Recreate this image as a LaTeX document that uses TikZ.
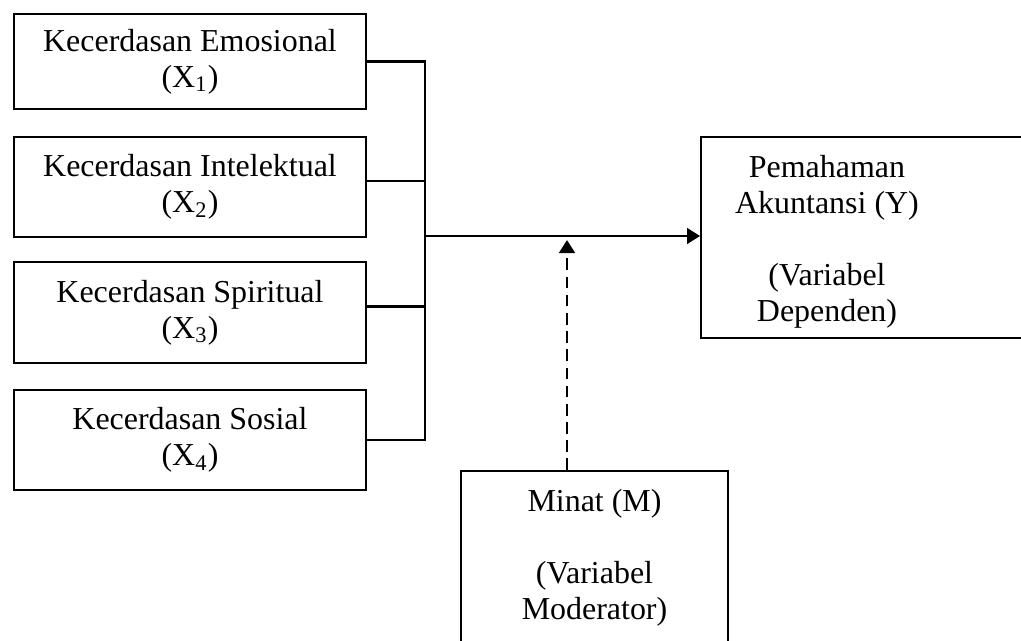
\documentclass[tikz,border=0pt]{standalone}
\usepackage{fontspec}
\setmainfont{Liberation Serif}
\usetikzlibrary{positioning, calc, arrows.meta}

\begin{document}
\begin{tikzpicture}[x=0.385pt, y=-0.385pt, line width=1pt,
    txt/.style={align=center, font=\fontsize{12.3}{13.86}\selectfont},
    varbox/.style={txt, draw, minimum width=135.5pt, inner sep=0pt},
    thinbox/.style={draw, line width=0.7pt, inner sep=0pt},
    tip/.style={-{Triangle[length=5pt, width=6pt]}}]
\path[use as bounding box, clip] (0,0) rectangle (1021,640);
% independent variables
\node[varbox, minimum height=36.6pt] (x1) at (190,61.5) {Kecerdasan Emosional\\(X\textsubscript{1})};
\node[varbox, minimum height=38.5pt] (x2) at (190,187) {Kecerdasan Intelektual\\(X\textsubscript{2})};
\node[varbox, minimum height=38.9pt] (x3) at (190,312.5) {Kecerdasan Spiritual\\(X\textsubscript{3})};
\node[varbox, minimum height=38.5pt] (x4) at (190,440) {Kecerdasan Sosial\\(X\textsubscript{4})};
% dependent and moderator
\node[thinbox, minimum width=126.7pt, minimum height=77.4pt] (y) at (865.5,237.5) {};
\node[txt] (ytext) at (827,241.5) {Pemahaman\\Akuntansi (Y)\\~\\(Variabel\\Dependen)};
\node[thinbox, txt, minimum width=102.8pt, minimum height=66.6pt] (m) at (594.5,557.5) {Minat (M)\\~\\(Variabel\\Moderator)};
% connectors
\coordinate (bus) at (425,236);
\coordinate (mod) at (567,240);
\draw (x1.east) -| (bus) (x4.east) -| (bus);
\draw ($(x2.east)+(0,-6)$) -| (bus) ($(x3.east)+(0,-6)$) -| (bus);
\draw[tip] (bus) -- (bus -| y.west);
\draw[tip, line width=1.1pt, dash pattern=on 4.5pt off 2.5pt] (m.north -| mod) -- (mod);
\end{tikzpicture}
\end{document}
